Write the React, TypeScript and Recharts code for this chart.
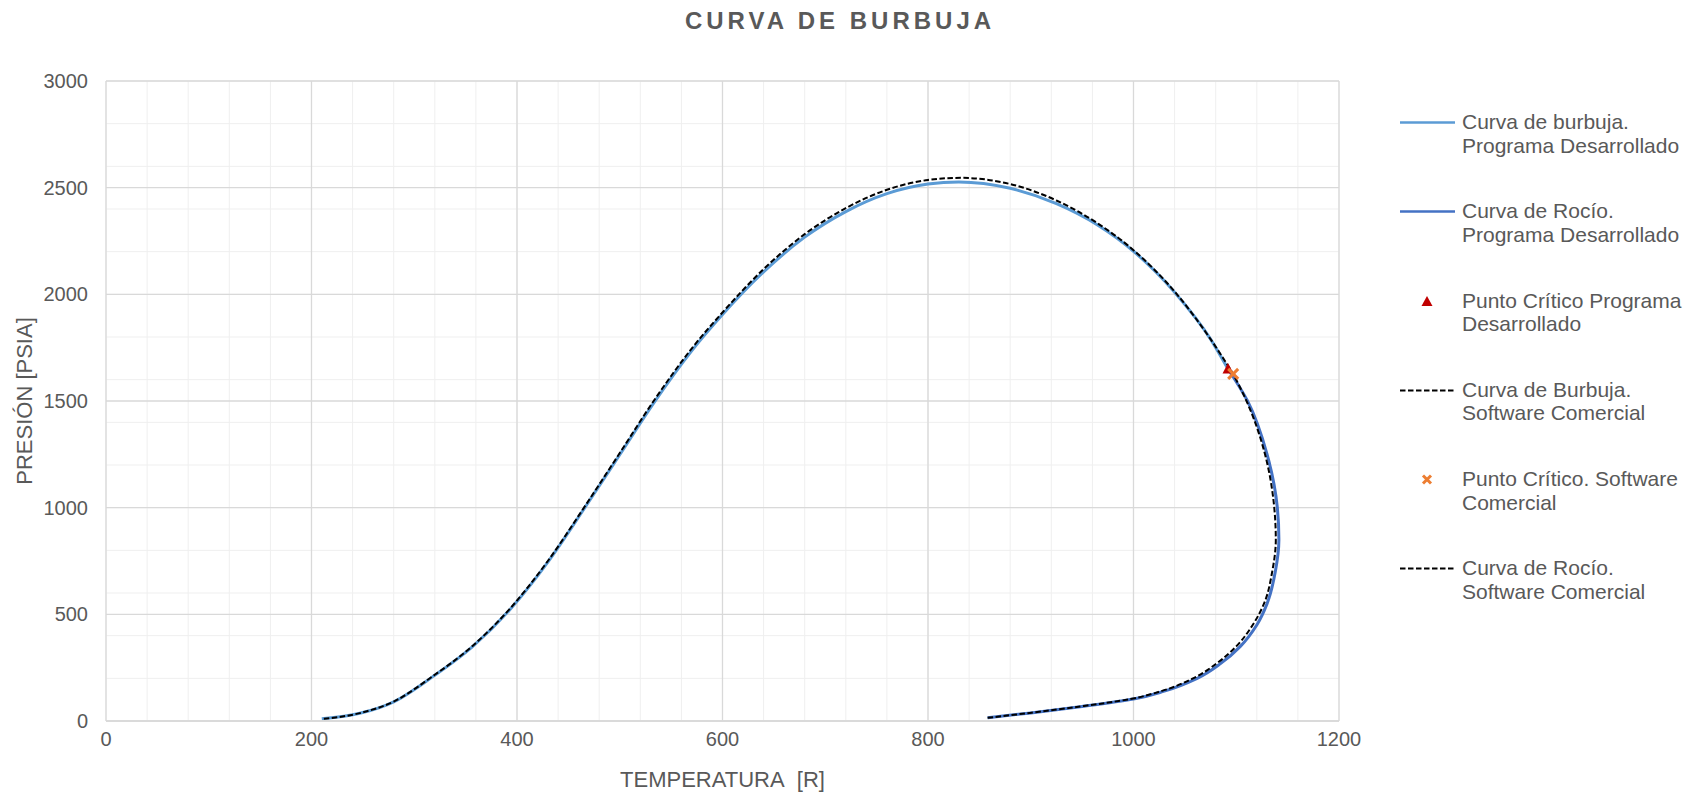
import { ComposedChart, Line, Scatter, XAxis, YAxis, CartesianGrid, Label } from 'recharts';

const FONT = '"Liberation Sans", Arial, sans-serif';
const TEXT = '#595959';

// Curva de burbuja - programa desarrollado
const bubbleProgT = [210, 247, 280, 318, 357, 393, 430, 466, 500, 533, 570, 600, 640, 680, 720, 760, 800, 830, 880, 925, 965, 1000, 1040, 1075, 1092];
const bubbleProgP = [10, 36, 90, 208, 350, 522, 745, 1000, 1248, 1490, 1735, 1905, 2105, 2268, 2388, 2472, 2517, 2527, 2497, 2425, 2325, 2202, 2010, 1790, 1650];

// Curva de rocío - programa desarrollado
const dewProgT = [858, 900, 950, 1000, 1030, 1062, 1085, 1104, 1120, 1130, 1138, 1141.5, 1140, 1130, 1111, 1092];
const dewProgP = [15, 38, 68, 103, 140, 200, 270, 350, 450, 550, 700, 850, 1000, 1250, 1500, 1650];

// Curva de burbuja - software comercial
const bubbleComT = [212, 247, 280, 318, 357, 393, 430, 466, 500, 533, 570, 600, 640, 680, 720, 760, 800, 832, 880, 925, 965, 1000, 1040, 1075, 1097];
const bubbleComP = [10, 37, 91, 210, 353, 526, 750, 1006, 1256, 1500, 1746, 1915, 2118, 2282, 2404, 2490, 2536, 2546, 2517, 2440, 2333, 2207, 2013, 1790, 1627];

// Curva de rocío - software comercial
const dewComT = [858, 899, 948, 997, 1027, 1058, 1081, 1100, 1116, 1127, 1135, 1138.5, 1137, 1128, 1110, 1097];
const dewComP = [15, 38, 68, 103, 140, 200, 270, 350, 450, 550, 700, 850, 1000, 1250, 1500, 1627];

// puntos críticos
const critProg = [{ x: 1092, y: 1650 }];
const critCom = [{ x: 1097, y: 1627 }];

const xTicks = [0, 200, 400, 600, 800, 1000, 1200];
const yTicks = [0, 500, 1000, 1500, 2000, 2500, 3000];
const xMinor = [0, 40, 80, 120, 160, 200, 240, 280, 320, 360, 400, 440, 480, 520, 560, 600, 640, 680, 720, 760, 800, 840, 880, 920, 960, 1000, 1040, 1080, 1120, 1160, 1200];
const yMinor = [0, 100, 200, 300, 400, 500, 600, 700, 800, 900, 1000, 1100, 1200, 1300, 1400, 1500, 1600, 1700, 1800, 1900, 2000, 2100, 2200, 2300, 2400, 2500, 2600, 2700, 2800, 2900, 3000];

const zip = (t: number[], p: number[]) => t.map((x, i) => ({ x, y: p[i] }));

const legendItems = [
  { name: 'Curva de burbuja.\nPrograma Desarrollado', kind: 'line', color: '#5B9BD5' },
  { name: 'Curva de Rocío.\nPrograma Desarrollado', kind: 'line', color: '#4472C4' },
  { name: 'Punto Crítico Programa\nDesarrollado', kind: 'triangle', color: '#C00000' },
  { name: 'Curva de Burbuja.\nSoftware Comercial', kind: 'dash', color: '#000000' },
  { name: 'Punto Crítico. Software\nComercial', kind: 'x', color: '#ED7D31' },
  { name: 'Curva de Rocío.\nSoftware Comercial', kind: 'dash', color: '#000000' },
];

const Triangle = (props: any) => {
  const { cx, cy } = props;
  return <path d={`M${cx},${cy - 6} L${cx + 5.5},${cy + 4.5} L${cx - 5.5},${cy + 4.5} Z`} fill="#C00000" />;
};

const Cross = (props: any) => {
  const { cx, cy } = props;
  return (
    <g stroke="#ED7D31" strokeWidth={3}>
      <line x1={cx - 5} y1={cy - 5} x2={cx + 5} y2={cy + 5} />
      <line x1={cx - 5} y1={cy + 5} x2={cx + 5} y2={cy - 5} />
    </g>
  );
};

function LegendIcon({ kind, color }: { kind: string; color: string }) {
  return (
    <svg width={64} height={24} style={{ flex: '0 0 64px' }}>
      {kind === 'line' && <line x1={2} y1={12.5} x2={57} y2={12.5} stroke={color} strokeWidth={2.5} />}
      {kind === 'dash' && <line x1={2} y1={12.5} x2={57} y2={12.5} stroke={color} strokeWidth={2} strokeDasharray="5.5 2.5" />}
      {kind === 'triangle' && <path d="M29,7 L34.5,17 L23.5,17 Z" fill={color} />}
      {kind === 'x' && (
        <g stroke={color} strokeWidth={3}>
          <line x1={25} y1={8.5} x2={33} y2={16.5} />
          <line x1={25} y1={16.5} x2={33} y2={8.5} />
        </g>
      )}
    </svg>
  );
}

export default function App() {
  return (
    <div style={{ position: 'absolute', left: 0, top: 0, width: 1699, height: 794, background: '#fff', fontFamily: FONT }}>
      <div
        style={{
          position: 'absolute', left: 0, top: 7, width: 1680, textAlign: 'center',
          fontSize: 24, fontWeight: 'bold', letterSpacing: 4, color: TEXT, lineHeight: '28px',
        }}
      >
        CURVA DE BURBUJA
      </div>

      <ComposedChart width={1699} height={794} margin={{ top: 81, right: 360, bottom: 3, left: 5 }}>
        <CartesianGrid stroke="#EFEFEF" strokeWidth={1} verticalValues={xMinor} horizontalValues={yMinor} />
        <CartesianGrid stroke="#D9D9D9" strokeWidth={1.3} />
        <XAxis
          type="number"
          dataKey="x"
          domain={[0, 1200]}
          ticks={xTicks}
          allowDataOverflow
          height={70}
          tickLine={false}
          tickSize={0}
          tickMargin={11}
          axisLine={{ stroke: '#D9D9D9', strokeWidth: 1.5 }}
          tick={{ fill: TEXT, fontSize: 20, fontFamily: FONT }}
        >
          <Label value={'TEMPERATURA\u00a0 [R]'} position="insideBottom" offset={4} fill={TEXT} fontSize={22} fontFamily={FONT} />
        </XAxis>
        <YAxis
          type="number"
          dataKey="y"
          domain={[0, 3000]}
          ticks={yTicks}
          allowDataOverflow
          width={101}
          tickLine={false}
          axisLine={false}
          tickSize={0}
          tickMargin={18}
          tick={{ fill: TEXT, fontSize: 20, fontFamily: FONT }}
        >
          <Label
            value="PRESIÓN [PSIA]"
            angle={-90}
            position="insideLeft"
            offset={19}
            fill={TEXT}
            fontSize={22}
            fontFamily={FONT}
            style={{ textAnchor: 'middle' }}
          />
        </YAxis>

        <Line data={zip(dewProgT, dewProgP)} dataKey="y" type="monotoneY" stroke="#4472C4" strokeWidth={3} dot={false} isAnimationActive={false} />
        <Line data={zip(bubbleProgT, bubbleProgP)} dataKey="y" type="monotoneX" stroke="#5B9BD5" strokeWidth={3} dot={false} isAnimationActive={false} />
        <Line data={zip(bubbleComT, bubbleComP)} dataKey="y" type="monotoneX" stroke="#000" strokeWidth={2} strokeDasharray="5.5 2.5" dot={false} isAnimationActive={false} />
        <Line data={zip(dewComT, dewComP)} dataKey="y" type="monotoneY" stroke="#000" strokeWidth={2} strokeDasharray="5.5 2.5" dot={false} isAnimationActive={false} />
        <Scatter data={critProg} dataKey="y" shape={Triangle} isAnimationActive={false} />
        <Scatter data={critCom} dataKey="y" shape={Cross} isAnimationActive={false} />
      </ComposedChart>

      <div style={{ position: 'absolute', left: 1398, top: 110, fontSize: 21, color: TEXT, lineHeight: '23.5px' }}>
        {legendItems.map((it, i) => (
          <div key={i} style={{ display: 'flex', alignItems: 'flex-start', height: 89.3 }}>
            <LegendIcon kind={it.kind} color={it.color} />
            <div style={{ whiteSpace: 'pre' }}>{it.name}</div>
          </div>
        ))}
      </div>
    </div>
  );
}
